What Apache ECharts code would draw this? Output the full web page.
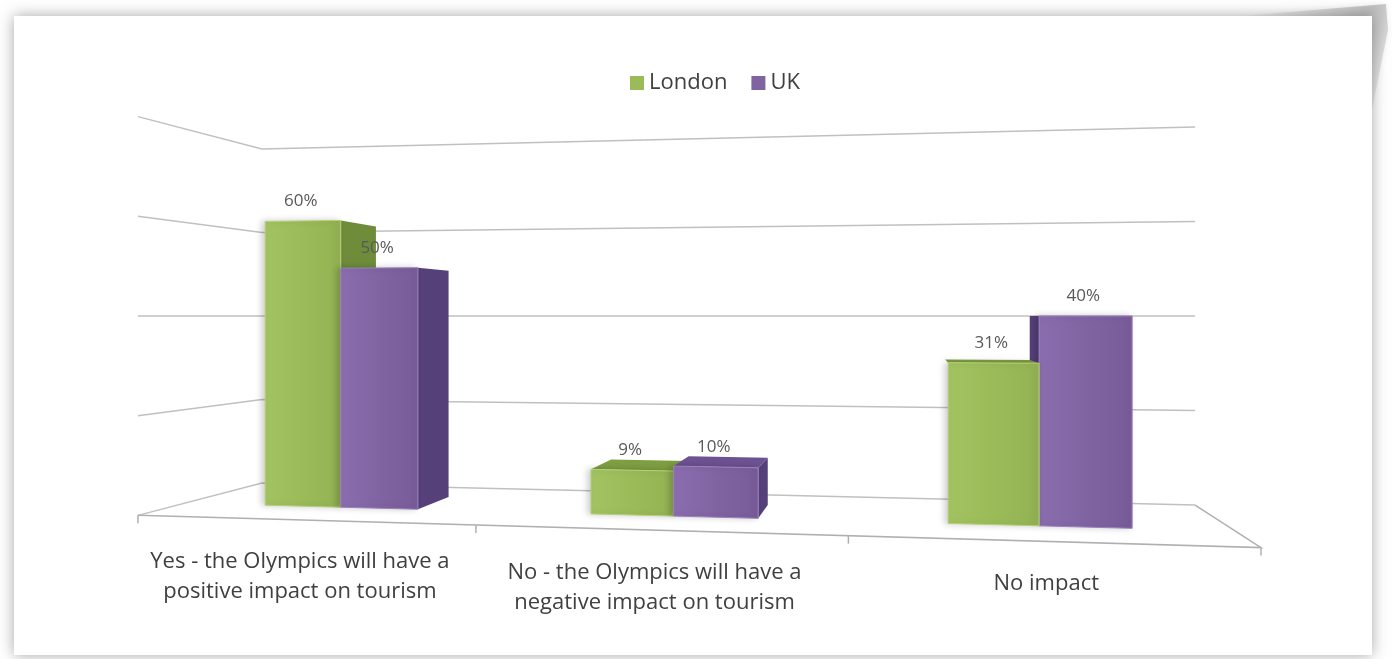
<!DOCTYPE html>
<html>
<head>
<meta charset="utf-8">
<script src="https://cdn.jsdelivr.net/npm/echarts@6/dist/echarts.min.js"></script>
<style>
  html, body { margin: 0; padding: 0; background: #ffffff; }
  #chart { width: 1392px; height: 659px; }
</style>
</head>
<body>
<div id="chart"></div>
<script>
// Survey answers: will the Olympics affect tourism?
const categories = [
  'Yes - the Olympics will have a\npositive impact on tourism',
  'No - the Olympics will have a\nnegative impact on tourism',
  'No impact'
];
const seriesNames = ['London', 'UK'];
const londonValues = [60, 9, 31];
const ukValues = [50, 10, 40];
const gridTicks = [0, 20, 40, 60, 80];

const Y_MAX = gridTicks[gridTicks.length - 1];
const FONT = '"Open Sans", Lato, sans-serif';

// Simple pinhole camera for the 3-D look.
// World X/Z are in the horizontal plane; Y is the value in percent.
const CAM = { cx: 740, cy: 316, f: 1000, eye: 40 };
const FLOOR_BL = [-114.5, 239.5];   // back-left corner of the floor
const ALONG = [210.8, -27.9];       // back wall direction, left -> right
const DEPTH = [-6.3, -38.85];       // back wall -> front edge
const NORMAL = [-DEPTH[1], DEPTH[0]];
const T_BACK = 0.3, T_FRONT = 0.66; // bar depth inside the floor
const BAR_SHARE = 0.24;             // bar width as a share of the category band
const MIN_SIDE_PX = 7;              // thinner side faces read as bevel only

function world(a, t) {
  return [
    FLOOR_BL[0] + a * ALONG[0] + t * DEPTH[0],
    FLOOR_BL[1] + a * ALONG[1] + t * DEPTH[1]
  ];
}
function project(a, t, v) {
  const w = world(a, t);
  return [CAM.cx + CAM.f * w[0] / w[1], CAM.cy - CAM.f * (v - CAM.eye) / w[1]];
}

const palette = {
  London: { front: ['#A3C362', '#9BBB59', '#93B253'], side: '#6E8C3A', top: '#7E9E42', edge: '#B4D174' },
  UK:     { front: ['#8A6DAE', '#8064A2', '#785C99'], side: '#55407A', top: '#6D5292', edge: '#9A80BE' }
};

function hGrad(c) {
  return new echarts.graphic.LinearGradient(0, 0, 1, 0, [
    { offset: 0, color: c[0] }, { offset: 0.5, color: c[1] }, { offset: 1, color: c[2] }
  ]);
}

function unflatten(params, api, cat, val) {
  const cs = params.coordSys;
  const base = api.coord([cat, 0]);
  const top = api.coord([cat, val]);
  return {
    a: (base[0] - cs.x) / cs.width,
    band: api.size([1, 0])[0] / cs.width,
    v: (base[1] - top[1]) / cs.height * Y_MAX
  };
}

function barRenderer(name, side) {
  const col = palette[name];
  return function (params, api) {
    const cat = api.value(0), val = api.value(1);
    const p = unflatten(params, api, cat, val);
    const bw = p.band * BAR_SHARE;
    const a0 = side < 0 ? p.a - bw : p.a;
    const a1 = side < 0 ? p.a : p.a + bw;
    const v = p.v, tb = T_BACK, tf = T_FRONT;

    const mid = world((a0 + a1) / 2, (tb + tf) / 2);
    const z2 = Math.round(10000 - Math.hypot(mid[0], mid[1]) * 10);
    const children = [];

    function sideFace(a) {
      const pts = [project(a, tf, 0), project(a, tb, 0), project(a, tb, v), project(a, tf, v)];
      if (Math.abs(pts[0][0] - pts[1][0]) < MIN_SIDE_PX) return;
      children.push({ type: 'polygon', z2: z2, shape: { points: pts }, style: { fill: col.side } });
    }
    // Side faces: visible when the camera sits on their outer side
    const wr = world(a1, tf), wl = world(a0, tf);
    if (-(wr[0] * NORMAL[0] + wr[1] * NORMAL[1]) > 0) sideFace(a1);
    if ((wl[0] * NORMAL[0] + wl[1] * NORMAL[1]) > 0) sideFace(a0);
    if (v < CAM.eye) {
      children.push({ type: 'polygon', z2: z2,
        shape: { points: [project(a0, tb, v), project(a1, tb, v), project(a1, tf, v), project(a0, tf, v)] },
        style: { fill: col.top } });
    }
    children.push({ type: 'polygon', z2: z2 + 1,
      shape: { points: [project(a0, tf, 0), project(a1, tf, 0), project(a1, tf, v), project(a0, tf, v)] },
      style: { fill: hGrad(col.front), stroke: col.edge, lineWidth: 1, lineJoin: 'round',
        shadowBlur: 6, shadowOffsetX: -3, shadowColor: 'rgba(0,0,0,0.18)' } });

    const lp = project((a0 + a1) / 2, tf, v);
    children.push({ type: 'text', z2: 30000,
      style: { x: lp[0] - 2, y: lp[1] - 20, text: val + '%', align: 'center', verticalAlign: 'middle',
        fill: '#595959', font: '17px ' + FONT } });
    return { type: 'group', children: children };
  };
}

function wallRenderer(params, api) {
  const p = unflatten(params, api, 0, api.value(0));
  const v = p.v;
  const children = [{
    type: 'polyline',
    shape: { points: [project(0, 1, v), project(0, 0, v), project(1, 0, v)] },
    style: { stroke: '#C0C0C0', lineWidth: 1.5, fill: null }
  }];
  if (v === 0) {
    children.push({
      type: 'polyline',
      shape: { points: [project(1, 0, 0), project(1, 1, 0), project(0, 1, 0)] },
      style: { stroke: '#B0B0B0', lineWidth: 1.5, fill: null }
    });
  }
  return { type: 'group', children: children };
}

function axisRenderer(params, api) {
  const cat = api.value(0);
  const p = unflatten(params, api, cat, 0);
  const children = [];
  const edges = [p.a - p.band / 2];
  if (cat === categories.length - 1) edges.push(p.a + p.band / 2);
  edges.forEach(function (a) {
    const q = project(a, 1, 0);
    children.push({ type: 'line', shape: { x1: q[0], y1: q[1], x2: q[0], y2: q[1] + 8 },
      style: { stroke: '#B0B0B0', lineWidth: 1.5 } });
  });
  const c = project(p.a, 1, 0);
  children.push({ type: 'text',
    style: { x: c[0] - 3, y: c[1] + 27, text: categories[cat], align: 'center', verticalAlign: 'top',
      lineHeight: 30, fill: '#404040', font: '22px ' + FONT } });
  return { type: 'group', children: children };
}

const chart = echarts.init(document.getElementById('chart'), null, { renderer: 'canvas' });
chart.setOption({
  animation: false,
  backgroundColor: '#ffffff',
  graphic: [
    { type: 'rect', z: 0, shape: { x: 14, y: 16, width: 1358, height: 639 },
      style: { fill: '#ffffff', shadowBlur: 14, shadowColor: 'rgba(0,0,0,0.35)' } },
    { type: 'polygon', z: -1,
      shape: { points: [[1240, 16], [1386, 4], [1388, 30], [1372, 110], [1372, 16]] },
      style: { fill: new echarts.graphic.LinearGradient(0, 0, 1, 1, [
        { offset: 0, color: 'rgba(160,160,160,0.0)' }, { offset: 0.6, color: 'rgba(150,150,150,0.55)' },
        { offset: 1, color: 'rgba(180,180,180,0.1)' }]), shadowBlur: 6, shadowColor: 'rgba(0,0,0,0.15)' } }
  ],
  legend: {
    data: seriesNames,
    left: 625, top: 67,
    icon: 'rect', itemWidth: 14, itemHeight: 14, itemGap: 24,
    textStyle: { fontSize: 22, color: '#404040', fontFamily: FONT }
  },
  grid: { left: 0, top: 0, width: 900, height: 800, show: false },
  xAxis: { type: 'category', data: categories, show: false },
  yAxis: { type: 'value', min: 0, max: Y_MAX, interval: 20, show: false },
  series: [
    { type: 'custom', name: 'walls', z: 2, silent: true,
      data: gridTicks.map(function (t) { return [t]; }),
      encode: { y: 0 }, renderItem: wallRenderer },
    { type: 'custom', name: 'axis', z: 2, silent: true,
      data: categories.map(function (c, i) { return [i]; }),
      encode: { x: 0 }, renderItem: axisRenderer },
    { type: 'custom', name: 'London', z: 3,
      itemStyle: { color: palette.London.front[1] },
      data: londonValues.map(function (v, i) { return [i, v]; }),
      encode: { x: 0, y: 1 }, renderItem: barRenderer('London', -1) },
    { type: 'custom', name: 'UK', z: 3,
      itemStyle: { color: palette.UK.front[1] },
      data: ukValues.map(function (v, i) { return [i, v]; }),
      encode: { x: 0, y: 1 }, renderItem: barRenderer('UK', 1) }
  ]
});
</script>
</body>
</html>
